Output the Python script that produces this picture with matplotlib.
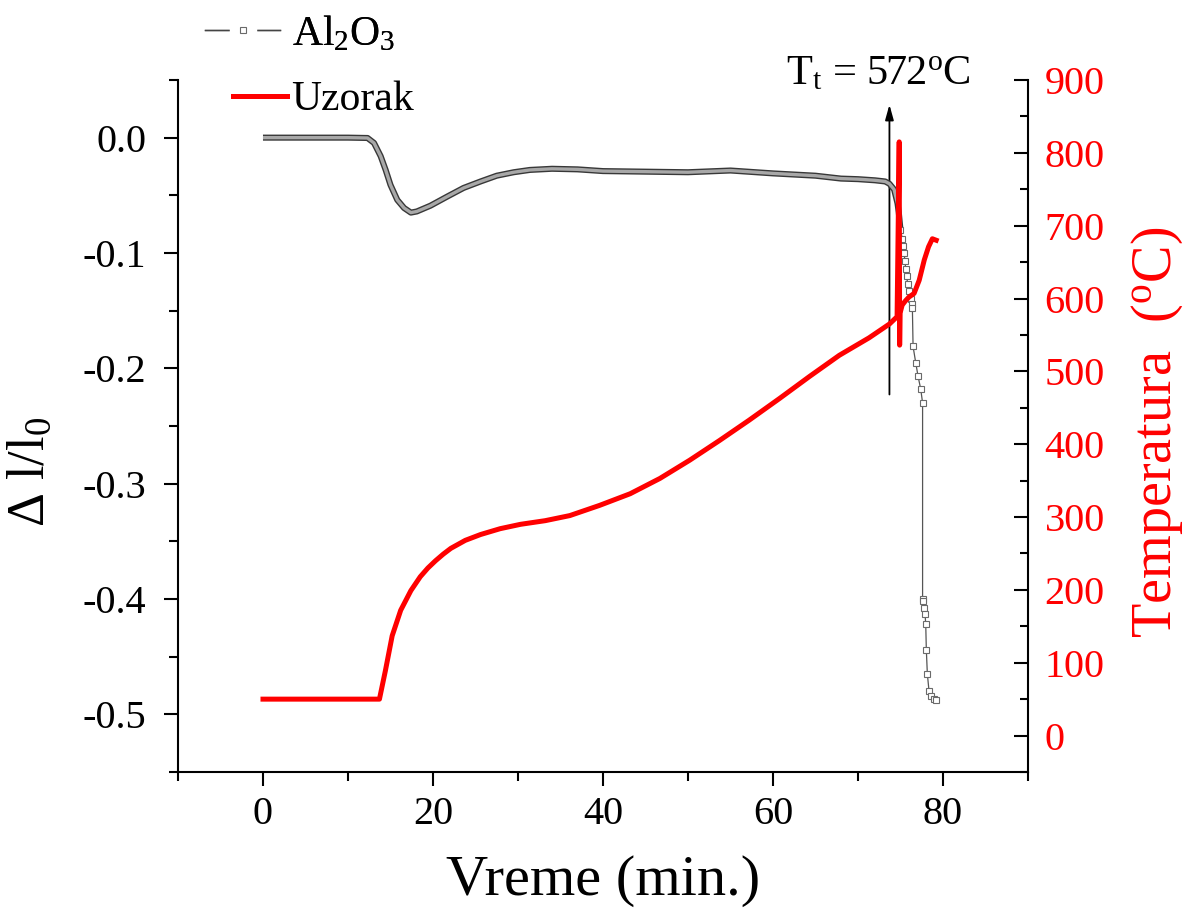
import numpy as np
import matplotlib
matplotlib.use("Agg")
import matplotlib.pyplot as plt
from matplotlib.lines import Line2D
from matplotlib.ticker import MultipleLocator, FormatStrFormatter

plt.rcParams['font.family'] = ['Liberation Serif', 'DejaVu Serif']
plt.rcParams['mathtext.fontset'] = 'custom'
plt.rcParams['mathtext.rm'] = 'Liberation Serif'
plt.rcParams['mathtext.it'] = 'Liberation Serif:italic'
plt.rcParams['mathtext.bf'] = 'Liberation Serif:bold'
plt.rcParams['axes.unicode_minus'] = False

# Al2O3 reference: relative elongation vs time
al_time = [0, 5, 10, 12.3, 13.06, 13.84, 14.43, 15.0, 15.8, 16.6, 17.4, 18.1,
           19.7, 21.7, 23.6, 25.6, 27.5, 29.5, 31.4, 34, 37, 40, 45, 50, 55,
           58, 60, 65, 68, 70, 72, 73.2, 73.7, 74.25, 74.65, 74.8, 75.0,
           75.23, 75.3, 75.43, 75.52, 75.62, 75.72, 75.85, 76.0, 76.21, 76.3,
           76.40, 76.48, 76.79, 77.07, 77.38, 77.6, 77.6, 77.65, 77.77, 77.89,
           77.97, 78.04, 78.16, 78.36, 78.55, 78.94, 79.2]
al_dl = [0.0, 0.0, 0.0, -0.0003, -0.0046, -0.016, -0.028, -0.041, -0.054,
         -0.061, -0.065, -0.064, -0.059, -0.051, -0.0436, -0.038, -0.033,
         -0.030, -0.028, -0.027, -0.0275, -0.029, -0.0295, -0.030, -0.0285,
         -0.030, -0.031, -0.033, -0.0355, -0.036, -0.037, -0.038, -0.040,
         -0.045, -0.057, -0.065, -0.080,
         -0.088, -0.094, -0.100, -0.107, -0.114, -0.120, -0.127, -0.133,
         -0.140, -0.144, -0.148, -0.181, -0.195, -0.207, -0.218, -0.230,
         -0.400, -0.402, -0.408, -0.413, -0.422, -0.444, -0.465, -0.480,
         -0.484, -0.487, -0.488]

# Sample temperature vs time
temp_time = [0, 5, 10, 13.7, 14.4, 15.2, 16.2, 17.4, 18.5, 19.4, 20.3, 21.2,
             22.1, 23.8, 25.6, 27.9, 30.3, 33.2, 36.1, 39.6, 43.2, 46.7, 50.2,
             53.7, 57.2, 60.8, 64.3, 67.8, 71.3, 73.7, 74.6, 74.85, 74.9,
             74.95, 75.2, 75.6, 76.0, 76.6, 77.2, 77.8, 78.3, 78.75, 79.2]
temp_val = [50, 50, 50, 50, 89, 137, 172, 199, 218, 230, 240, 249, 257, 268,
            276, 284, 290, 295, 302, 316, 332, 353, 378, 405, 433, 463, 493,
            522, 546, 565, 575, 815, 536, 580, 591, 597, 602, 607, 625, 653,
            671, 682, 680]

transition_label = r"T$_\mathrm{t}$ = 572$^\mathrm{o}$C"

fig = plt.figure(figsize=(11.85, 9.15), dpi=100)
ax = fig.add_axes([0.1502, 0.1563, 0.7173, 0.7563])
ax2 = ax.twinx()

t = np.array(al_time)
dl = np.array(al_dl)
dense = t <= 75.0
tail_start = np.argmax(~dense) - 1

# densely sampled part rendered as an outlined band
ax.plot(t[dense], dl[dense], color='#383838', lw=4.4, solid_capstyle='butt', zorder=3)
ax.plot(t[dense], dl[dense], color='#a8a8a8', lw=2.4, solid_capstyle='butt', zorder=3.1)
# sparse tail with hollow square markers
ax.plot(t[tail_start:], dl[tail_start:], color='#555555', lw=0.9,
        marker='s', ms=4.2, mfc='white', mec='#6a6a6a', mew=0.8, zorder=3.2)

ax2.plot(temp_time, temp_val, color='#ff0000', lw=3.6, zorder=4)

# axes ranges and ticks
ax.set_xlim(-10, 90)
ax.set_ylim(-0.55, 0.05)
ax2.set_ylim(-50, 900)

ax.xaxis.set_major_locator(MultipleLocator(20))
ax.xaxis.set_minor_locator(MultipleLocator(10))
ax.yaxis.set_major_locator(MultipleLocator(0.1))
ax.yaxis.set_minor_locator(MultipleLocator(0.05))
ax.yaxis.set_major_formatter(FormatStrFormatter('%.1f'))
ax2.yaxis.set_major_locator(MultipleLocator(100))
ax2.yaxis.set_minor_locator(MultipleLocator(50))

for a in (ax, ax2):
    a.spines['top'].set_visible(False)
    for s in a.spines.values():
        s.set_linewidth(1.5)

ax.spines['right'].set_visible(False)
ax2.spines['left'].set_visible(False)
ax2.spines['bottom'].set_visible(False)

ax.tick_params(axis='x', which='major', direction='out', length=10, width=1.5,
               labelsize=29, pad=7)
ax.tick_params(axis='y', which='major', direction='out', length=10, width=1.5,
               labelsize=29, pad=13)
ax.tick_params(axis='both', which='minor', direction='out', length=6.5, width=1.5)
ax2.tick_params(axis='y', which='major', direction='in', length=10, width=1.5,
                labelsize=29, labelcolor='#ff0000', pad=12)
ax2.tick_params(axis='y', which='minor', direction='in', length=6, width=1.5)

ax.set_xlabel("Vreme (min.)", fontsize=42)
ax.xaxis.set_label_coords(0.5, -0.12)
ax.set_ylabel(r"Δ l/l$_0$", fontsize=38)
ax.yaxis.set_label_coords(-0.145, 0.434)
ax2.set_ylabel(r"Temperatura  ($^\mathrm{o}$C)", fontsize=40.5, color='#ff0000')
ax2.yaxis.set_label_coords(1.12, 0.491)

# transition marker
ax.annotate("", xy=(73.7, 0.0286), xytext=(73.7, -0.2227),
            arrowprops=dict(arrowstyle='-|>,head_length=0.9,head_width=0.25',
                            color='black', lw=1.3, shrinkA=0, shrinkB=0),
            zorder=2, annotation_clip=False)
ax.text(72.4, 0.046, transition_label, fontsize=30.5, ha='center', va='baseline',
        clip_on=False)

# legends
al_line = Line2D([], [], color='#444444', lw=1.0)
al_gap = Line2D([], [], ls='none', marker='s', ms=19, mfc='white', mec='white')
al_mark = Line2D([], [], ls='none', marker='s', ms=4.2, mfc='white', mec='#6a6a6a', mew=0.8)
leg1 = fig.legend(handles=[(al_line, al_gap, al_mark)], labels=[r"Al$_2$O$_3$"],
                  loc='center left', bbox_to_anchor=(205 / 1185, 1 - 34 / 915),
                  frameon=False, fontsize=30, borderpad=0, borderaxespad=0,
                  handlelength=1.8, handletextpad=0.3)
fig.add_artist(leg1)
red_line = Line2D([], [], color='#ff0000', lw=3.6)
fig.legend(handles=[red_line], labels=["Uzorak"],
           loc='center left', bbox_to_anchor=(233 / 1185, 1 - 100 / 915),
           frameon=False, fontsize=30, borderpad=0, borderaxespad=0,
           handlelength=1.3, handletextpad=0.1)

fig.savefig("out.png", dpi=100)
